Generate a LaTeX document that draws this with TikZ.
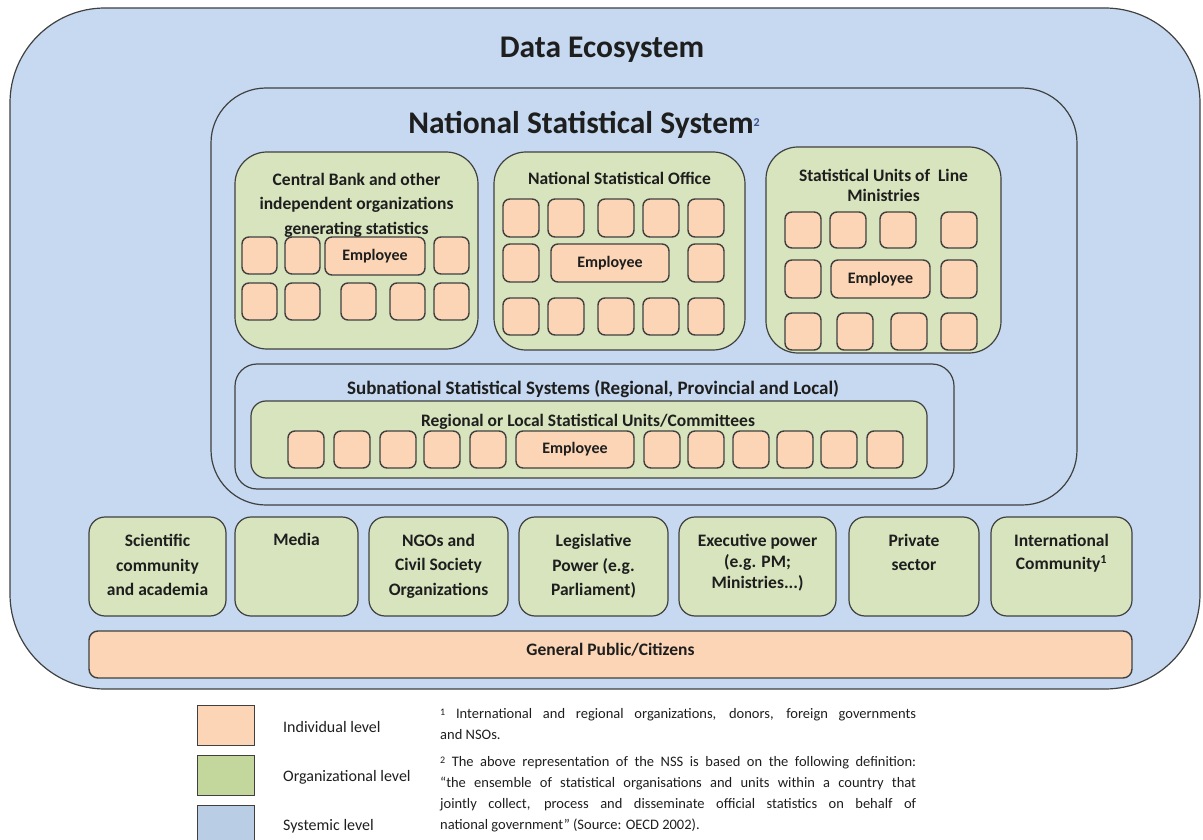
\documentclass[tikz,border=0pt]{standalone}
\usepackage{fontspec}
\setmainfont{Carlito}
\usetikzlibrary{positioning}

\definecolor{sysblue}{RGB}{198,217,240}
\definecolor{orggreen}{RGB}{215,228,189}
\definecolor{indorange}{RGB}{251,213,181}
\definecolor{edgegray}{RGB}{64,64,64}
\definecolor{legblue}{RGB}{185,205,229}
\definecolor{leggreen}{RGB}{195,214,155}
\definecolor{textdark}{RGB}{30,30,30}
\definecolor{markblue}{RGB}{60,80,140}

\newcommand\ecotitlefont{\bfseries\fontsize{31.5}{36}\selectfont}
\newcommand\labelfont{\bfseries\fontsize{17.5}{24.5}\selectfont}
\newcommand\emplfont{\bfseries\fontsize{16}{18}\selectfont}
\newcommand\notefont{\fontsize{14.5}{21}\selectfont}

\tikzset{
  sysbox/.style={draw=edgegray, line width=1.2pt, fill=sysblue, anchor=north west, inner sep=0pt, outer sep=0pt},
  orgbox/.style={draw=edgegray, line width=1.2pt, fill=orggreen, rounded corners=32pt, anchor=north west, inner sep=0pt, outer sep=0pt},
  actbox/.style={orgbox, rounded corners=16pt, minimum height=99pt},
  indbox/.style={draw=edgegray, line width=1.4pt, fill=indorange, rounded corners=7pt, anchor=north west, inner sep=0pt, outer sep=0pt, font=\emplfont, text=textdark},
  sq/.style={indbox, minimum width=35pt, minimum height=37pt},
  boxlabel/.style={font=\labelfont, align=center, inner sep=0pt, anchor=north, text=textdark},
  legbox/.style={draw=edgegray, line width=1.4pt, anchor=north west, minimum width=57pt, minimum height=40pt, inner sep=0pt},
  legtext/.style={font=\fontsize{16}{18}\selectfont, anchor=west, inner sep=0pt, text=textdark},
  notes/.style={font=\notefont, text width=476pt, align=justify, anchor=north west, inner sep=0pt, text=textdark}
}

\begin{document}
\begin{tikzpicture}[x=1pt,y=-1pt]
  \useasboundingbox (0,0) rectangle (1203,840);

  % Data ecosystem
  \node[sysbox, rounded corners=95pt, minimum width=1190pt, minimum height=681pt] (eco) at (10,8) {};
  \node[font=\ecotitlefont, text=textdark] (ecotitle) at (602,50) {Data Ecosystem};

  % National statistical system
  \node[sysbox, rounded corners=55pt, minimum width=866pt, minimum height=417pt] (nss) at (211,88) {};
  \node[font=\ecotitlefont, text=textdark] (nsstitle) at (584,125) {National Statistical System{\fontsize{12}{12}\selectfont\color{markblue}\raisebox{7pt}{2}}};

  % Central Bank
  \node[orgbox, minimum width=243pt, minimum height=197pt] (cb) at (235,152) {};
  \node[boxlabel, below=21pt of cb.north] (cbtitle) {Central Bank and other\\independent organizations\\generating statistics};
  \foreach \x [count=\i] in {242,285,434}
    \node[sq] (cb-a\i) at (\x,237) {};
  \node[indbox, minimum width=100pt, minimum height=38pt] (cb-emp) at (325,237) {Employee};
  \foreach \x [count=\i] in {242,285,341,390,434}
    \node[sq] (cb-b\i) at (\x,283) {};

  % National Statistical Office
  \node[orgbox, minimum width=251pt, minimum height=198pt] (nso) at (494,152) {};
  \node[boxlabel, below=20pt of nso.north] (nsotitle) {National Statistical Office};
  \foreach \x [count=\i] in {503,548,598,643,688}
    \node[sq, minimum width=36pt, minimum height=38pt] (nso-a\i) at (\x,199) {};
  \node[sq, minimum width=36pt, minimum height=38pt] (nso-b1) at (503,244) {};
  \node[indbox, minimum width=118pt, minimum height=38pt] (nso-emp) at (551,244) {Employee};
  \node[sq, minimum width=36pt, minimum height=38pt] (nso-b2) at (688,244) {};
  \foreach \x [count=\i] in {503,548,598,643,688}
    \node[sq, minimum width=36pt] (nso-c\i) at (\x,298) {};

  % Statistical Units of Line Ministries
  \node[orgbox, minimum width=235pt, minimum height=206pt] (lm) at (766,147) {};
  \node[boxlabel, below=22pt of lm.north, font=\bfseries\fontsize{17.5}{20}\selectfont] (lmtitle) {Statistical Units of~ Line\\Ministries};
  \foreach \x [count=\i] in {785,830,880,941}
    \node[sq, minimum width=36pt, minimum height=36pt] (lm-a\i) at (\x,212) {};
  \node[sq, minimum width=36pt, minimum height=38pt] (lm-b1) at (785,260) {};
  \node[indbox, minimum width=99pt, minimum height=38pt] (lm-emp) at (831,260) {Employee};
  \node[sq, minimum width=36pt, minimum height=38pt] (lm-b2) at (941,260) {};
  \foreach \x [count=\i] in {785,837,891,941}
    \node[sq, minimum width=36pt] (lm-c\i) at (\x,313) {};

  % Subnational statistical systems
  \node[sysbox, rounded corners=22pt, minimum width=719pt, minimum height=125pt] (sub) at (235,364) {};
  \node[boxlabel, font=\bfseries\fontsize{19}{22}\selectfont] (subtitle) at (593,380) {Subnational Statistical Systems (Regional, Provincial and Local)};
  \node[orgbox, rounded corners=15pt, minimum width=676pt, minimum height=77pt] (reg) at (251,401) {};
  \node[boxlabel] (regtitle) at (588,414) {Regional or Local Statistical Units/Committees};
  \foreach \x [count=\i] in {288,334,380,424,470,644,688,733,777,821,867}
    \node[sq, minimum width=36pt] (reg-\i) at (\x,431) {};
  \node[indbox, minimum width=118pt, minimum height=37pt] (reg-emp) at (516,431) {Employee};

  % Other actors
  \node[actbox, minimum width=137pt] (sci) at (89,517) {};
  \node[boxlabel, below=17pt of sci.north] (scit) {Scientific\\community\\and academia};
  \node[actbox, minimum width=123pt] (media) at (235,517) {};
  \node[boxlabel, below=16pt of media.north] (mediat) {Media};
  \node[actbox, minimum width=139pt] (ngo) at (369,517) {};
  \node[boxlabel, below=17pt of ngo.north] (ngot) {NGOs and\\Civil Society\\Organizations};
  \node[actbox, minimum width=149pt] (leg) at (519,517) {};
  \node[boxlabel, below=17pt of leg.north] (legt) {Legislative\\Power (e.g.\\Parliament)};
  \node[actbox, minimum width=157pt] (exe) at (679,517) {};
  \node[boxlabel, below=17pt of exe.north, font=\bfseries\fontsize{17.5}{21}\selectfont] (exet) {Executive power\\(e.g. PM;\\Ministries...)};
  \node[actbox, minimum width=130pt] (priv) at (849,517) {};
  \node[boxlabel, below=17pt of priv.north] (privt) {Private\\sector};
  \node[actbox, minimum width=141pt] (intl) at (991,517) {};
  \node[boxlabel, below=17pt of intl.north, font=\bfseries\fontsize{17.5}{23}\selectfont] (intlt) {International\\Community\textsuperscript{1}};

  % General public
  \node[indbox, rounded corners=9pt, minimum width=1043pt, minimum height=47pt] (pub) at (89,631) {};
  \node[font=\labelfont, text=textdark, inner sep=0pt] (pubt) at ([yshift=5pt]pub.center) {General Public/Citizens};

  % Legend
  \node[legbox, fill=indorange] (leg-ind) at (197,705) {};
  \node[legtext] (leg-ind-t) at (283,727) {Individual level};
  \node[legbox, fill=leggreen] (leg-org) at (197,755) {};
  \node[legtext] (leg-org-t) at (283,777) {Organizational level};
  \node[legbox, fill=legblue] (leg-sys) at (197,805) {};
  \node[legtext] (leg-sys-t) at (283,826) {Systemic level};

  % Footnotes
  \node[notes] (note1) at (440,708) {{\fontsize{10}{10}\selectfont\raisebox{3pt}{1}} International and regional organizations, donors, foreign governments\linebreak and NSOs.};
  \node[notes] (note2) at (440,756) {{\fontsize{10}{10}\selectfont\raisebox{3pt}{2}} The above representation of the NSS is based on the following definition:\linebreak ``the ensemble of statistical organisations and units within a country that\linebreak jointly collect, process and disseminate official statistics on behalf of\linebreak national government'' (Source: OECD 2002).};
\end{tikzpicture}
\end{document}
